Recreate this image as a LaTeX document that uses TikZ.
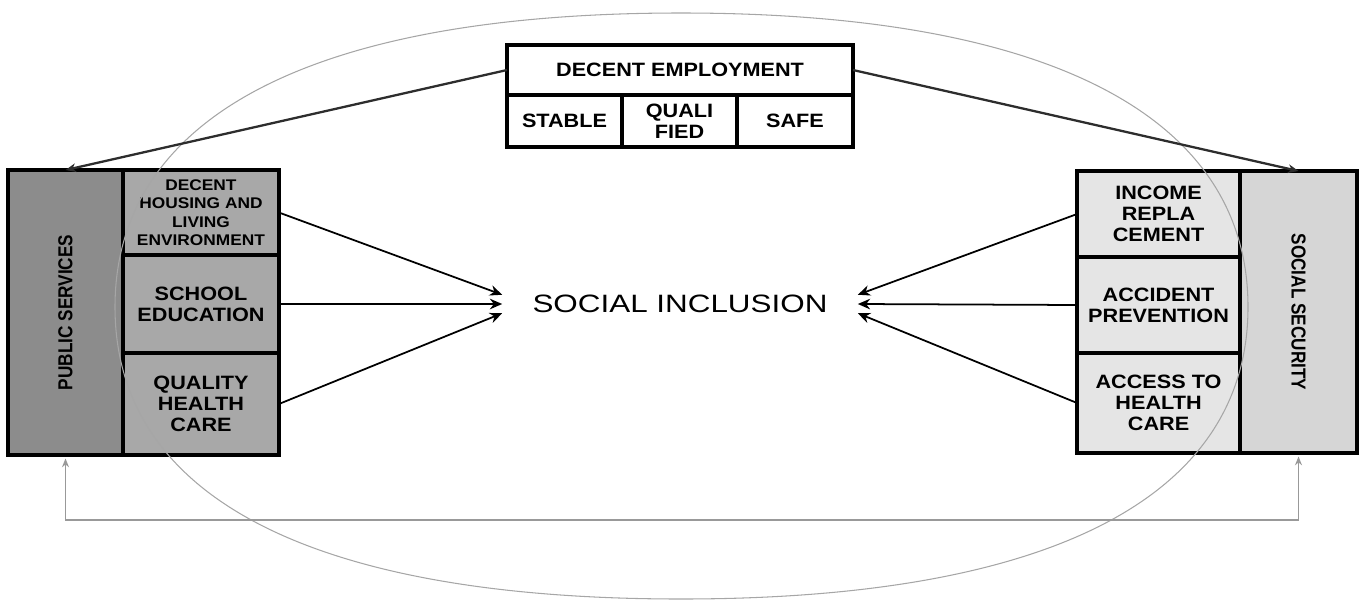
\documentclass[tikz,border=0pt]{standalone}
\usepackage{fontspec}
\setmainfont{Liberation Sans}[FakeStretch=1.12]
\newfontfamily\narrowfont{Liberation Sans}[FakeStretch=0.85]
\newfontfamily\widefont{Liberation Sans}[FakeStretch=1.25]
\usepackage{tikz}
\usetikzlibrary{arrows.meta,positioning}

\definecolor{pubgray}{gray}{0.55}
\definecolor{cellgray}{gray}{0.66}
\definecolor{celllight}{gray}{0.9}
\definecolor{secgray}{gray}{0.84}

\begin{document}
\begin{tikzpicture}[
x=0.02cm, y=-0.02cm,
box/.style={rectangle, draw, line width=2pt, outer sep=0pt, inner sep=1pt, align=center,
  font=\bfseries\fontsize{11}{12}\selectfont},
sidelabel/.style={font=\narrowfont\bfseries\fontsize{11.5}{12}\selectfont},
arrow/.style={-{Stealth[length=7pt,width=6pt]}, line width=1pt},
toparrow/.style={-{Stealth[length=6pt,width=5pt]}, line width=1.3pt, gray!35!black},
link/.style={{Stealth[length=5pt,width=4pt]}-{Stealth[length=5pt,width=4pt]}, line width=0.8pt, gray!80}
]
\useasboundingbox (0,0) rectangle (1362,602);

% public services block
\node[box, fill=pubgray, minimum width=2.3cm, minimum height=5.7cm] (public) at (65.5,312.5) {};
\node[sidelabel, rotate=90] at (public) {PUBLIC SERVICES};
\node[box, fill=cellgray, minimum width=3.12cm, minimum height=1.7cm, anchor=north west,
  font=\bfseries\fontsize{8.8}{10.5}\selectfont] (housing) at (public.north east) {DECENT\\HOUSING AND\\LIVING\\ENVIRONMENT};
\node[box, fill=cellgray, minimum width=3.12cm, minimum height=1.96cm, below=0pt of housing] (school) {SCHOOL\\EDUCATION};
\node[box, fill=cellgray, minimum width=3.12cm, minimum height=2.04cm, below=0pt of school] (health) {QUALITY\\HEALTH\\CARE};

% social security block
\node[box, fill=secgray, minimum width=2.34cm, minimum height=5.64cm] (security) at (1298.5,312) {};
\node[sidelabel, rotate=-90] at (security) {SOCIAL SECURITY};
\node[box, fill=celllight, minimum width=3.26cm, minimum height=1.72cm, anchor=north east] (income) at (security.north west) {INCOME\\REPLA\\CEMENT};
\node[box, fill=celllight, minimum width=3.26cm, minimum height=1.92cm, below=0pt of income] (accident) {ACCIDENT\\PREVENTION};
\node[box, fill=celllight, minimum width=3.26cm, minimum height=2.0cm, below=0pt of accident] (access) {ACCESS TO\\HEALTH\\CARE};

% decent employment
\node[box, fill=white, minimum width=6.92cm, minimum height=1cm] (employ) at (680,70) {DECENT EMPLOYMENT};
\node[box, fill=white, minimum width=2.3cm, minimum height=1.04cm, anchor=north west] (stable) at (employ.south west) {STABLE};
\node[box, fill=white, minimum width=2.3cm, minimum height=1.04cm, right=0pt of stable] (qualified) {QUALI\\FIED};
\node[box, fill=white, minimum width=2.32cm, minimum height=1.04cm, right=0pt of qualified] (safe) {SAFE};

\node[font=\widefont\fontsize{14.3}{16}\selectfont, inner xsep=0.6cm, inner ysep=0pt] (inclusion) at (680,304) {SOCIAL INCLUSION};

% outer ring
\draw[gray!70, line width=0.6pt] (115,307) .. controls (115,116) and (313,13) .. (681,13)
  .. controls (1049,13) and (1248,116) .. (1248,307)
  .. controls (1248,498) and (1049,599) .. (681,599)
  .. controls (313,599) and (115,498) .. (115,307);

\draw[arrow] (housing.east) -- (inclusion.north west);
\draw[arrow] (school.east) -- (inclusion.west);
\draw[arrow] (health.east) -- (inclusion.south west);
\draw[arrow] (income.west) -- (inclusion.north east);
\draw[arrow] (accident.west) -- (inclusion.east);
\draw[arrow] (access.west) -- (inclusion.south east);

\draw[toparrow] (employ.west) -- (public.north);
\draw[toparrow] (employ.east) -- (security.north);

\draw[link, shorten <=2pt, shorten >=2pt] (public.south) -- ++(0,65) -| (security.south);

\end{tikzpicture}
\end{document}
